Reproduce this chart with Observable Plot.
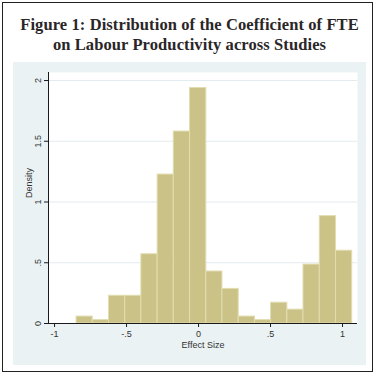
<!DOCTYPE html>
<html>
<head>
<meta charset="utf-8">
<script src="https://cdn.jsdelivr.net/npm/d3@7"></script>
<script src="https://cdn.jsdelivr.net/npm/@observablehq/plot@0.6"></script>
<style>
  html, body { margin: 0; padding: 0; background: #ffffff; }
  #frame { position: absolute; left: 2px; top: 2px; width: 371px; height: 370px; border: 1.5px solid #222; box-sizing: border-box; }
  #title { position: absolute; left: 0; top: 15px; width: 379px; text-align: center;
           font-family: "Liberation Serif", "DejaVu Serif", serif; font-weight: bold;
           font-size: 16.5px; line-height: 20px; color: #2a2627; letter-spacing: 0.1px; }
  #panel { position: absolute; left: 13px; top: 62px; width: 353px; height: 303px; background: #eaf2f3; }
</style>
</head>
<body>
<div id="frame"></div>
<div id="title">Figure 1: Distribution of the Coefficient of FTE<br>on Labour Productivity across Studies</div>
<div id="panel"></div>
<script>
// Histogram bin edges (effect size) and densities
const binEdges = [-0.847, -0.735, -0.622, -0.509, -0.397, -0.284, -0.172, -0.059, 0.054,
                  0.166, 0.279, 0.392, 0.504, 0.617, 0.729, 0.842, 0.955, 1.067];
const densities = [0.057, 0.028, 0.228, 0.228, 0.570, 1.226, 1.580, 1.938, 0.428,
                   0.285, 0.057, 0.028, 0.171, 0.114, 0.485, 0.884, 0.599];
const xTicks = [-1, -0.5, 0, 0.5, 1];
const xTickLabels = ["-1", "-.5", "0", ".5", "1"];
const yTicks = [0, 0.5, 1, 1.5, 2];
const yTickLabels = ["0", ".5", "1", "1.5", "2"];
const xLabel = "Effect Size";
const yLabel = "Density";

const bins = densities.map((d, i) => ({x1: binEdges[i], x2: binEdges[i + 1], density: d}));
const xDomain = [-1.042, 1.104];
const yDomain = [0, 2.066];

const chart = Plot.plot({
  width: 353,
  height: 303,
  marginLeft: 35,
  marginRight: 9,
  marginTop: 10,
  marginBottom: 42,
  style: {background: "#eaf2f3", fontFamily: "'Liberation Sans', Arial, sans-serif", fontSize: "9px", color: "#333"},
  x: {domain: xDomain, label: null},
  y: {domain: yDomain, label: null},
  marks: [
    Plot.frame({fill: "#ffffff", stroke: null}),
    Plot.gridY(yTicks, {stroke: "#e2ebee", strokeOpacity: 1, strokeWidth: 1}),
    Plot.rectY(bins, {x1: "x1", x2: "x2", y: "density", fill: "#cac287", stroke: "#e2dcb0", strokeWidth: 1}),
    Plot.ruleY([0], {stroke: "#1a1a1a", strokeWidth: 1}),
    Plot.ruleX([xDomain[0]], {stroke: "#1a1a1a", strokeWidth: 1}),
    Plot.axisX({ticks: xTicks, tickSize: 4, tickPadding: 3, tickFormat: d => xTickLabels[xTicks.indexOf(d)], label: null, stroke: "#1a1a1a"}),
    Plot.axisY({ticks: yTicks, tickSize: 4, tickFormat: () => "", label: null, stroke: "#1a1a1a"}),
    Plot.text(yTicks, {x: xDomain[0], y: d => d, text: (d, i) => yTickLabels[i], rotate: -90, dx: -10, fill: "#333"}),
    Plot.text([yLabel], {frameAnchor: "left", rotate: -90, dx: -19, text: d => d, fill: "#333"}),
    Plot.text([xLabel], {frameAnchor: "bottom", dy: 24, text: d => d, fill: "#333"})
  ]
});
document.getElementById("panel").appendChild(chart);
</script>
</body>
</html>
